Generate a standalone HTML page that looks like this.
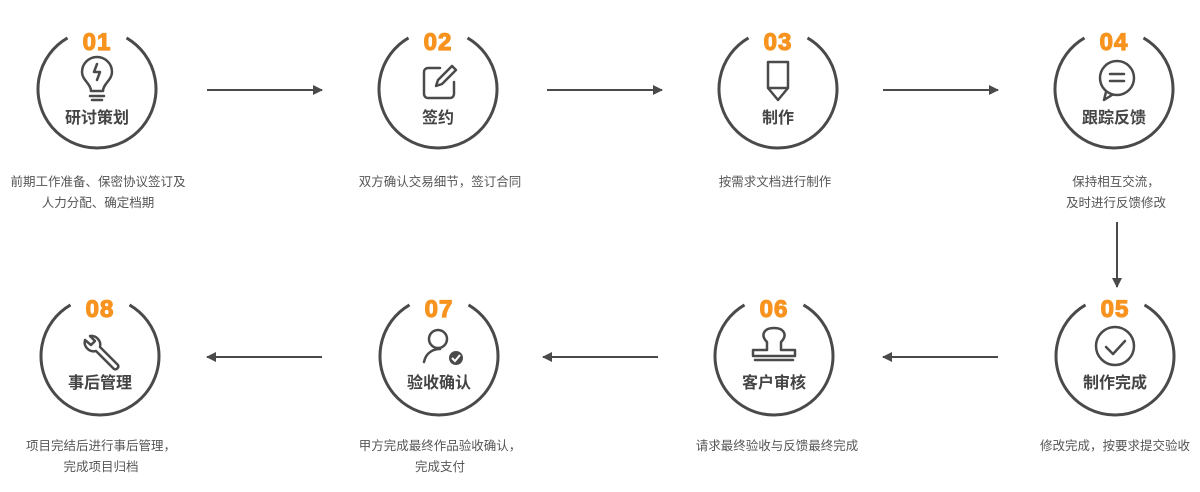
<!DOCTYPE html>
<html><head><meta charset="utf-8"><style>
body{margin:0;background:#fff;width:1200px;height:492px;overflow:hidden}
svg{display:block}
.n{font-family:"Liberation Sans",sans-serif;font-weight:bold;font-size:24px;fill:#f7931e;stroke:#f7931e;stroke-width:1.2;text-anchor:middle;letter-spacing:1px}
.l{font-family:"Liberation Sans","Noto Sans CJK SC",sans-serif;font-size:16px;fill:#444;text-anchor:middle;font-weight:bold}
.d{font-family:"Liberation Sans","Noto Sans CJK SC",sans-serif;font-size:12.5px;fill:#555;text-anchor:middle}
.c{fill:none;stroke:#4a4a4a;stroke-width:3}
.i{fill:none;stroke:#4a4a4a;stroke-width:2.5;stroke-linecap:round;stroke-linejoin:round}
.a{stroke:#4a4a4a;stroke-width:2}
</style></head><body>
<svg width="1200" height="492" viewBox="0 0 1200 492">
<defs>
<g id="ring"><path class="c" d="M-29.5,-51.1 A59,59 0 1,0 29.5,-51.1"/></g>
<marker id="ar" markerWidth="10" markerHeight="10" refX="9" refY="5" orient="auto" markerUnits="userSpaceOnUse"><path d="M0,0 L10,5 L0,10 Z" fill="#4a4a4a"/></marker>
</defs>
<use href="#ring" x="97" y="89"/><use href="#ring" x="438" y="89"/><use href="#ring" x="778" y="89"/><use href="#ring" x="1114" y="89"/>
<use href="#ring" x="100" y="356"/><use href="#ring" x="439" y="356"/><use href="#ring" x="774" y="356"/><use href="#ring" x="1115" y="356"/>
<text class="n" x="97" y="50">01</text><text class="n" x="438" y="50">02</text><text class="n" x="778" y="50">03</text><text class="n" x="1114" y="50">04</text>
<text class="n" x="1115" y="317">05</text><text class="n" x="774" y="317">06</text><text class="n" x="439" y="317">07</text><text class="n" x="100" y="317">08</text>
<text class="l" x="97" y="123">研讨策划</text><text class="l" x="438" y="123">签约</text><text class="l" x="778" y="123">制作</text><text class="l" x="1114" y="123">跟踪反馈</text>
<text class="l" x="1115" y="388">制作完成</text><text class="l" x="774" y="388">客户审核</text><text class="l" x="439" y="388">验收确认</text><text class="l" x="100" y="388">事后管理</text>
<path class="i" d="M91,91 C91,84 82,80 82,72 A15,15 0 1,1 112,72 C112,80 103,84 103,91 Z M97,64 L94,72 L100,72 L97,80"/>
<path class="i" d="M90,96 H104 M92,100 H102"/>
<path class="i" d="M440,68 H428 A4,4 0 0 0 424,72 V94 A4,4 0 0 0 428,98 H450 A4,4 0 0 0 454,94 V82 M436,86 L438,80 L452,66 L456,70 L442,84 Z"/>
<path class="i" d="M768,62 H788 V88 L778,100 L768,88 Z M768,88 H788"/>
<circle class="i" cx="1117" cy="78" r="17"/><path class="i" d="M1106,92 L1104,100 L1112,95 M1110,74 H1124 M1110,81 H1124"/>
<circle class="i" cx="1115" cy="346" r="19"/><path class="i" d="M1106,347 L1113,354 L1125,341"/>
<path class="i" d="M767,342 C760,335 764,328 774,328 C784,328 788,335 781,342 V350 H795 V356 H753 V350 H767 Z M755,360 H793"/>
<circle class="i" cx="438" cy="339" r="9"/><path class="i" d="M424,362 C426,352 434,349 440,349"/>
<circle cx="456" cy="358" r="7" fill="#4a4a4a"/><path d="M452,358 L455,361 L460,355" stroke="#fff" stroke-width="2" fill="none"/>
<path class="i" d="M90,336 A9,9 0 0 1 100,347 L118,365 A3,3 0 0 1 114,369 L96,351 A9,9 0 0 1 85,340 L91,345 L95,341 Z"/>
<line class="a" x1="207" y1="90" x2="322" y2="90" marker-end="url(#ar)"/>
<line class="a" x1="547" y1="90" x2="662" y2="90" marker-end="url(#ar)"/>
<line class="a" x1="883" y1="90" x2="998" y2="90" marker-end="url(#ar)"/>
<line class="a" x1="1117" y1="222" x2="1117" y2="287" marker-end="url(#ar)"/>
<line class="a" x1="998" y1="357" x2="883" y2="357" marker-end="url(#ar)"/>
<line class="a" x1="658" y1="357" x2="543" y2="357" marker-end="url(#ar)"/>
<line class="a" x1="322" y1="357" x2="207" y2="357" marker-end="url(#ar)"/>
<text class="d" x="98" y="186">前期工作准备、保密协议签订及</text>
<text class="d" x="98" y="207">人力分配、确定档期</text>
<text class="d" x="440" y="186">双方确认交易细节，签订合同</text>
<text class="d" x="775" y="186">按需求文档进行制作</text>
<text class="d" x="1116" y="186">保持相互交流，</text>
<text class="d" x="1116" y="207">及时进行反馈修改</text>
<text class="d" x="1115" y="450">修改完成，按要求提交验收</text>
<text class="d" x="777" y="450">请求最终验收与反馈最终完成</text>
<text class="d" x="440" y="450">甲方完成最终作品验收确认，</text>
<text class="d" x="440" y="471">完成支付</text>
<text class="d" x="101" y="450">项目完结后进行事后管理，</text>
<text class="d" x="101" y="471">完成项目归档</text>
</svg>
</body></html>
